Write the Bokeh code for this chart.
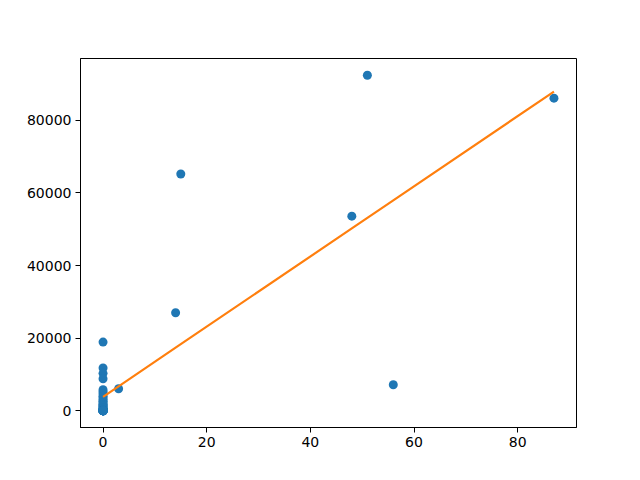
import numpy as np
from bokeh.plotting import figure
from bokeh.models import Range1d, FixedTicker, BasicTickFormatter
from bokeh.embed import file_html
from bokeh.resources import INLINE

# data
x_vals = [87, 51, 15, 48, 14, 56, 3] + [0] * 35
y_vals = [86100, 92400, 65200, 53600, 27000, 7150, 6050,
          18900, 11800, 10300, 8800, 5800, 5200, 4600, 4000, 3500, 3000,
          2600, 2200, 1800, 1500, 1200, 900, 700, 500, 350, 200, 120, 60, 30, 10,
          0, 0, 0, 0, 0, 0, 0, 0, 0, 0, 0]
x_ticks = [0, 20, 40, 60, 80]
y_ticks = [0, 20000, 40000, 60000, 80000]

x = np.array(x_vals, dtype=float)
y = np.array(y_vals, dtype=float)
m, b = np.polyfit(x, y, 1)
y_fit = m * x + b

xmin, xmax = x.min(), x.max()
ymin, ymax = min(y.min(), y_fit.min()), max(y.max(), y_fit.max())
xm = (xmax - xmin) * 0.05
ym = (ymax - ymin) * 0.05

p = figure(width=624, height=464, output_backend="svg", toolbar_location=None,
           x_range=Range1d(xmin - xm, xmax + xm), y_range=Range1d(ymin - ym, ymax + ym),
           min_border_left=80, min_border_right=48, min_border_top=58, min_border_bottom=37)
p.background_fill_color = "white"
p.border_fill_color = "white"
p.outline_line_color = "black"
p.outline_line_width = 1
p.xgrid.visible = False
p.ygrid.visible = False

p.scatter(x, y, size=9, fill_color="#1f77b4", line_color="#1f77b4", line_width=0)
order = np.argsort(x)
p.line(x[order], y_fit[order], line_color="#ff7f0e", line_width=2.2)

for ax in (p.xaxis[0], p.yaxis[0]):
    ax.axis_line_color = "black"
    ax.major_tick_line_color = "black"
    ax.major_tick_out = 5
    ax.major_tick_in = 0
    ax.minor_tick_line_color = None
    ax.major_label_text_font = "DejaVu Sans"
    ax.major_label_text_font_size = "14px"
    ax.major_label_text_color = "black"
    ax.major_label_standoff = 4
    ax.formatter = BasicTickFormatter(use_scientific=False)
p.xaxis[0].ticker = FixedTicker(ticks=x_ticks)
p.yaxis[0].ticker = FixedTicker(ticks=y_ticks)

open("out.html", "w").write(file_html(p, INLINE))
